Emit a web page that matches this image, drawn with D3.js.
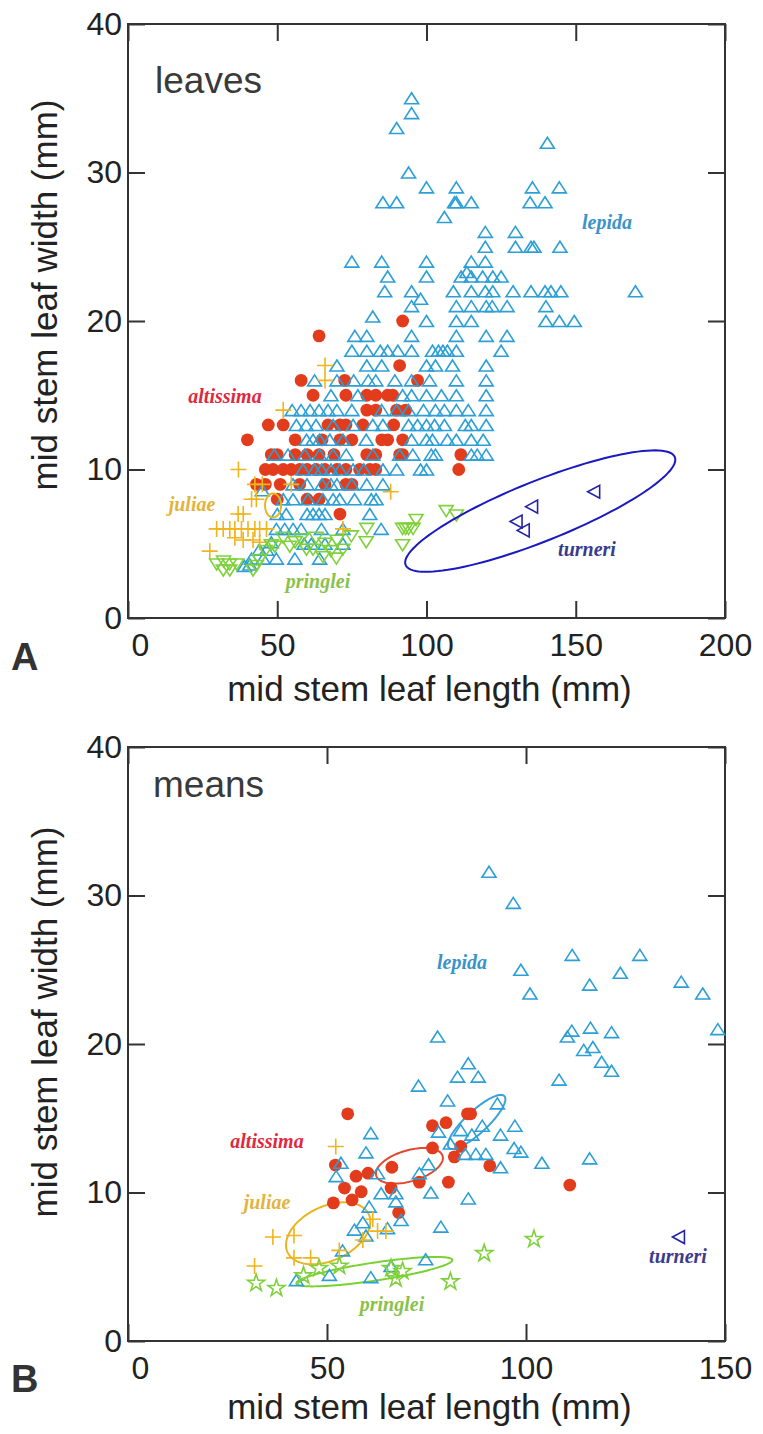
<!DOCTYPE html>
<html><head><meta charset="utf-8">
<script src="https://cdn.jsdelivr.net/npm/d3@7"></script>
<style>body{margin:0;background:#fff}svg{display:block}</style>
</head><body>
<svg id="c" width="763" height="1434"></svg>
<script>
// ---------- DATA : panel A (individual leaves) [length mm, width mm] ----------
const lepidaA = [
[95,35],[95,34],[90,33],[140.5,32],[94,30],
[100,29],[110,29],[135.5,29],[144.5,29],
[85.4,28],[90,28],[109.4,28],[110,28],[115,28],[134.7,28],[139.7,28],
[106,27],[119.7,26],[129.8,26],
[119.7,25],[129.8,25],[135,25],[136,25],[144.7,25],
[75,24],[85,24],[100,24],[115,24],[119.7,24],
[87,23],[100,23],[111.6,23],[113.5,23.3],[115,23],[118.8,23],[122.2,23],[125,23],
[86,22],[95,22],[109,22],[115,22],[119.7,22],[122.2,22],[129,22],[135,22],[139.7,22],[141.7,22],[145,22],[170,22],
[98,21.5],[95,21],[110,21],[115,21],[120,21],[122,21],[127,21],[140,21],
[82,20.3],[100,20],[110,20],[115,20],[140,20],[144.5,20],[149.5,20],
[76,19],[80,19],[95,19],[110,19],[120,19],[127,19],
[75,18],[80,18],[84.5,18],[87,18],[90.4,18],[95,18],[102,18],[104,18],[105.5,18],[107,18],[110,18],[125,18],
[70,17],[80,17],[85,17],[100,17],[103,17],[108.7,17],[120,17],
[62.5,16],[70,16],[75.6,16],[80.5,16],[83,16],[89.4,16],[95,16],[101,16],[110,16],[120,16],
[68,15],[77,15],[92,15],[95,15],[100,15],[105,15],[110,15],[120,15],
[55,14],[58,14],[61,14],[64,14],[67,14],[70,14],[75,14],[85,14],[90,14],[94,14],[99,14],[103,14],[106,14],[110,14],[114,14],[120,14],
[56.4,13],[59.7,13],[63,13],[68.7,13],[75.4,13],[82,13],[85.4,13],[94,13],[97,13],[100,13],[102.7,13],[106,13],[113,13],[115,13],[120,13],
[59.8,12],[62,12],[64.2,12],[67.6,12],[72,12],[79.8,12],[95,12],[100,12],[102,12],[107,12],[110,12],[115,12],[119,12],
[49,11],[53.6,11],[59.2,11],[64.2,11],[68.7,11],[73.1,11],[82,11],[91,11],[95.4,11],[101.6,11],[103,11],[115,11],[117,11],[120,11],
[58.6,10],[62.5,10],[64.8,10],[68,10],[71,10],[75.4,10],[79,10],[85.4,10],[90,10],[98,10],[100,10],
[45,8.6],[55.3,9],[60,9],[65,9],[68,9],[70,9],[75,9],[80,9],[85.4,9],
[52,8],[55.3,8],[60.3,8],[65.3,8],[68.7,8],[70.9,8],[75.9,8],[81.5,8],[83.1,8],
[50,7],[53,7],[60,7],[62,7],[64,7],[66,7],[81,7],
[49.7,6],[52.5,6],[55.3,6],[58,6],[64.8,6],[72,6],[84.8,6],
[48,5.1],[59,5],[61.4,5],[66,5],[72,5],
[44,4.6],[46.4,4.6],
[41.4,4],[45.3,4],[49.7,4],[55.9,4],[64.2,4],
[39,3.5],[40.8,3.6]
];
const altissimaA = [
[92,20],[64,19],[91,17],[58,16],[72.6,16],[97,16],
[62,15],[73,15],[80,15],[83,15],[87,15],[88.7,15],
[80,14],[83,14],[90,14],[93,14],
[47,13],[52,13],[67,13],[71,13],[73,13],[78.7,13],[89,13],
[40,12],[56,12],[65,12],[71,12],[75,12],[85,12],[87,12],[92,12],
[48,11],[50,11],[56,11],[60,11],[64,11],[69,11],[80,11],[83,11],[91,11],[92,11],[111.5,11],
[46,10],[48.6,10],[52,10],[54.7,10],[57.5,10],[60,10],[63,10],[66,10],[70,10],[73,10],[77.6,10],[81,10],[83,10],[110.8,10],
[43,9],[46,9],[51,9],[57.5,9],[66,9],[73,9],[75,9],
[50,8],[60,8],[64,8],[71,7]
];
const juliaeA = [
[66,17],[66,16],[52,14],[37,10],[88,8.5],[42.5,9],[45,9],[54.7,9],[41.4,8],[43,8],[36.9,7],[38.6,7],
[29.7,6],[31.9,6],[34.1,6],[35.8,6],[38,6],[40.2,6],[42.5,6],[44.1,6],[46.4,6],
[35.8,5.4],[38.6,5.25],[41.9,5.25],[44.1,5.1],[27.4,4.5],[72,6]
];
const pringleiA = [
[29.7,3.6],[32,3.8],[34,3.6],[36.4,3.6],[31.9,3.2],[34.1,3.2],[41.9,3.2],[43,3.5],[44,3.9],[46,4.5],
[48,4.9],[49.2,4.8],[52,5.4],[54.2,4.8],[56,5.1],[58,5.3],[59.8,4.6],[62,4.6],[63,5.4],[65.3,4.1],
[66,5],[68,4.5],[69.8,4],[70,5.2],[72,4.6],[74.8,5.5],[79.8,5.1],[80,6],[92,4.9],[92,6],[93,6],[94,6],
[95.5,6],[96.5,6.6],[106.6,7.2],[110,6.9]
];
const turneriA = [[130,6.5],[132.4,5.9],[135.2,7.5],[156,8.5]];

// ---------- DATA : panel B (plant means) ----------
const lepidaB = [
[90.7,31.6],[96.8,29.5],[111.6,26],[128.6,26],[98.7,25],[123.7,24.8],[116,24],[139,24.2],[101,23.4],[144.4,23.4],
[148.2,21],[111.5,20.9],[110.4,20.5],[116.2,21.1],[121.5,20.8],[114.5,19.6],[116.8,19.8],[119,18.8],[121.5,18.2],
[85.5,18.7],[82.8,17.8],[88,17.8],[108.3,17.6],[77.8,20.5],[73,17.2],[80.3,16.2],[92.8,16],[89,14.5],[97.2,14.5],
[83.6,14.2],[78,14.1],[86.4,13.9],[93.6,13.9],[61,14],[81,13.3],[97,13],[98.7,12.75],[84.7,12.6],[87.4,12.6],
[89.9,12.6],[104,12],[116,12.3],[75.5,11.9],[93.6,11.7],[59.8,12.7],[53.5,12],[73.2,11.3],[52.3,11.1],[62.7,11.3],
[63.6,9.95],[67.3,9.95],[76.1,10],[85.5,9.6],[67.3,9.4],[60.6,9.05],[68.6,8.15],[59,8],[56.9,7.5],[65.2,7.6],
[78.6,7.7],[59.8,7.1],[53.9,6.1],[74.8,5.5],[66.1,5.05],[50.6,4.45],[61,4.3],[42.3,4.1]
];
const altissimaB = [
[55.2,15.3],[85.3,15.3],[86.1,15.3],[76.5,14.5],[79.9,14.7],[76.5,13],[83.6,13.1],[82,12.4],[52.1,11.85],
[66.3,11.7],[90.9,11.8],[57.3,11.1],[60.3,11.3],[73.2,10.7],[80.5,10.7],[54.4,10.3],[58.6,10.05],[66.1,10.3],
[51.6,9.3],[56.3,9.5],[68,8.65],[111,10.5]
];
const juliaeB = [
[52.2,13.1],[36.4,7],[41.7,7.1],[41.7,5.6],[45.9,5.6],[31.8,5.05],[61.5,8.2],[62.7,7.4],[64.8,7.4],[59,6.8],[53.1,6.1]
];
const pringleiB = [
[32.2,3.9],[37.3,3.55],[44.1,4.4],[48,4.9],[53.1,5.05],[66.1,4.9],[67.3,4.2],[69,4.7],[81,4],[89.5,5.9],[102,6.85]
];
const turneriB = [[138.3,7]];

// ellipses: [centre L, centre W, half-axis1 dL, dW, half-axis2 dL, dW]
const ellipseA = {juliae:[48.6,7.58,2.68,0,0,0.81], turneri:[138.1,7.2,45.1,3.63,3.74,-1.88]};
const ellipseB = {lepida:[87.6,14.75,6.97,1.74,1.88,-0.54], altissima:[70.7,11.8,8.35,0.66,1.1,-1.0],
                  juliae:[50.3,7.25,10.2,1.28,2.86,-1.65], pringlei:[61.9,4.67,19.6,0.79,0.33,-0.6]};

const xTicksA = [0,50,100,150,200], yTicks = [0,10,20,30,40], xTicksB = [0,50,100,150];
const labelsA = [["altissima",225,403],["juliae",192,511],["pringlei",318,588],["lepida",607,229],["turneri",587,556]];
const labelsB = [["altissima",267,1148],["juliae",267,1209],["pringlei",392,1311],["lepida",462,969],["turneri",678,1263]];

// ---------- STYLE ----------
const col = {lepida:"#2c9fd6", altissima:"#e23c1c", juliae:"#f0b41c", pringlei:"#7fd13b", turneri:"#2323a8"};
const txtCol = {lepida:"#3a93c9", altissima:"#e0283e", juliae:"#e2b43c", pringlei:"#88c24c", turneri:"#3b3b8c"};
const ellCol = {lepida:"#3aa2d8", altissima:"#e04a30", juliae:"#e8b420", pringlei:"#7ad232", turneri:"#1a1ac0"};

const svg = d3.select("#c");
const SANS = "'Liberation Sans', Arial, Helvetica, sans-serif";
const SERIF = "'Liberation Serif', 'Times New Roman', serif";

const xA = d3.scaleLinear().domain([0,200]).range([128,725]);
const yA = d3.scaleLinear().domain([0,40]).range([618,24]);
const xB = d3.scaleLinear().domain([0,150]).range([128,725]);
const yB = d3.scaleLinear().domain([0,40]).range([1341,747]);

const P = {
  up:"M0,-5.5L7,5.5L-7,5.5Z",
  down:"M0,5.5L7,-5.5L-7,-5.5Z",
  left:"M-6,0L6,-6.5L6,6.5Z",
  plus:"M-8,0H8M0,-8V8",
  star:d3.symbol().type(d3.symbolStar).size(90)()
};

function axes(x, y, xt, yt, titleY, ytitleC){
  const g = svg.append("g");
  const st = s => { s.select(".domain").remove();
    s.selectAll("line").attr("stroke","#333").attr("stroke-width",2);
    s.selectAll("text").attr("font-family",SANS).attr("font-size",32).attr("fill","#222"); };
  const [y0,y1] = y.range(), [x0,x1] = x.range();
  g.append("g").attr("transform",`translate(0,${y0})`)
    .call(d3.axisBottom(x).tickValues(xt).tickSizeInner(-17).tickSizeOuter(0).tickPadding(15)).call(st)
    .selectAll("text").attr("dx",d=>d===0?12:0);
  g.append("g").attr("transform",`translate(0,${y1})`)
    .call(d3.axisTop(x).tickValues(xt).tickSizeInner(-17).tickSizeOuter(0).tickFormat(()=>"")).call(st);
  g.append("g").attr("transform",`translate(${x0},0)`)
    .call(d3.axisLeft(y).tickValues(yt).tickSizeInner(-17).tickSizeOuter(0).tickPadding(6)).call(st);
  g.append("g").attr("transform",`translate(${x1},0)`)
    .call(d3.axisRight(y).tickValues(yt).tickSizeInner(-17).tickSizeOuter(0).tickFormat(()=>"")).call(st);
  g.append("rect").attr("x",x0).attr("y",y1).attr("width",x1-x0).attr("height",y0-y1)
    .attr("fill","none").attr("stroke","#333").attr("stroke-width",2);
  g.append("text").attr("x",(x0+x1)/2+3).attr("y",titleY).attr("text-anchor","middle")
    .attr("font-family",SANS).attr("font-size",35).attr("fill","#222").text("mid stem leaf length (mm)");
  g.append("text").attr("transform",`translate(57,${ytitleC}) rotate(-90)`).attr("text-anchor","middle")
    .attr("font-family",SANS).attr("font-size",35).attr("fill","#222").text("mid stem leaf width (mm)");
}

function marks(data, x, y, path, color, sw){
  svg.append("g").selectAll("path").data(data).join("path")
    .attr("d",path).attr("transform",d=>`translate(${x(d[0])},${y(d[1])})`)
    .attr("fill","none").attr("stroke",color).attr("stroke-width",sw);
}
function dots(data, x, y, color){
  svg.append("g").selectAll("circle").data(data).join("circle")
    .attr("cx",d=>x(d[0])).attr("cy",d=>y(d[1])).attr("r",6.4).attr("fill",color);
}
function ellipse(p, x, y, color){
  const ts = d3.range(0, 2*Math.PI, Math.PI/60);
  const line = d3.line().x(t=>x(p[0]+p[2]*Math.cos(t)+p[4]*Math.sin(t)))
                        .y(t=>y(p[1]+p[3]*Math.cos(t)+p[5]*Math.sin(t))).curve(d3.curveLinearClosed);
  svg.append("path").attr("d",line(ts)).attr("fill","none").attr("stroke",color).attr("stroke-width",2);
}
function labels(list){
  svg.append("g").selectAll("text").data(list).join("text")
    .attr("x",d=>d[1]).attr("y",d=>d[2]).attr("text-anchor","middle")
    .attr("font-family",SERIF).attr("font-style","italic").attr("font-weight","bold").attr("font-size",20)
    .attr("fill",d=>txtCol[d[0]]).text(d=>d[0]);
}

// ---------- PANEL A ----------
axes(xA, yA, xTicksA, yTicks, 701, 295);
dots(altissimaA, xA, yA, col.altissima);
marks(lepidaA, xA, yA, P.up, col.lepida, 1.6);
marks(juliaeA, xA, yA, P.plus, col.juliae, 1.6);
marks(pringleiA, xA, yA, P.down, col.pringlei, 1.6);
marks(turneriA, xA, yA, P.left, col.turneri, 1.6);
ellipse(ellipseA.juliae, xA, yA, ellCol.juliae);
ellipse(ellipseA.turneri, xA, yA, ellCol.turneri);
labels(labelsA);
svg.append("text").attr("x",155).attr("y",93).attr("font-family",SANS).attr("font-size",37).attr("fill","#3a3a3a").text("leaves");
svg.append("text").attr("x",11).attr("y",670).attr("font-family",SANS).attr("font-weight","bold").attr("font-size",38).attr("fill","#333").text("A");

// ---------- PANEL B ----------
axes(xB, yB, xTicksB, yTicks, 1419, 1022);
ellipse(ellipseB.lepida, xB, yB, ellCol.lepida);
ellipse(ellipseB.altissima, xB, yB, ellCol.altissima);
ellipse(ellipseB.juliae, xB, yB, ellCol.juliae);
ellipse(ellipseB.pringlei, xB, yB, ellCol.pringlei);
dots(altissimaB, xB, yB, col.altissima);
marks(lepidaB, xB, yB, P.up, col.lepida, 1.6);
marks(juliaeB, xB, yB, P.plus, col.juliae, 1.6);
marks(pringleiB, xB, yB, P.star, col.pringlei, 1.6);
marks(turneriB, xB, yB, P.left, col.turneri, 1.6);
labels(labelsB);
svg.append("text").attr("x",153).attr("y",797).attr("font-family",SANS).attr("font-size",37).attr("fill","#3a3a3a").text("means");
svg.append("text").attr("x",11).attr("y",1392).attr("font-family",SANS).attr("font-weight","bold").attr("font-size",38).attr("fill","#333").text("B");
</script>
</body></html>
